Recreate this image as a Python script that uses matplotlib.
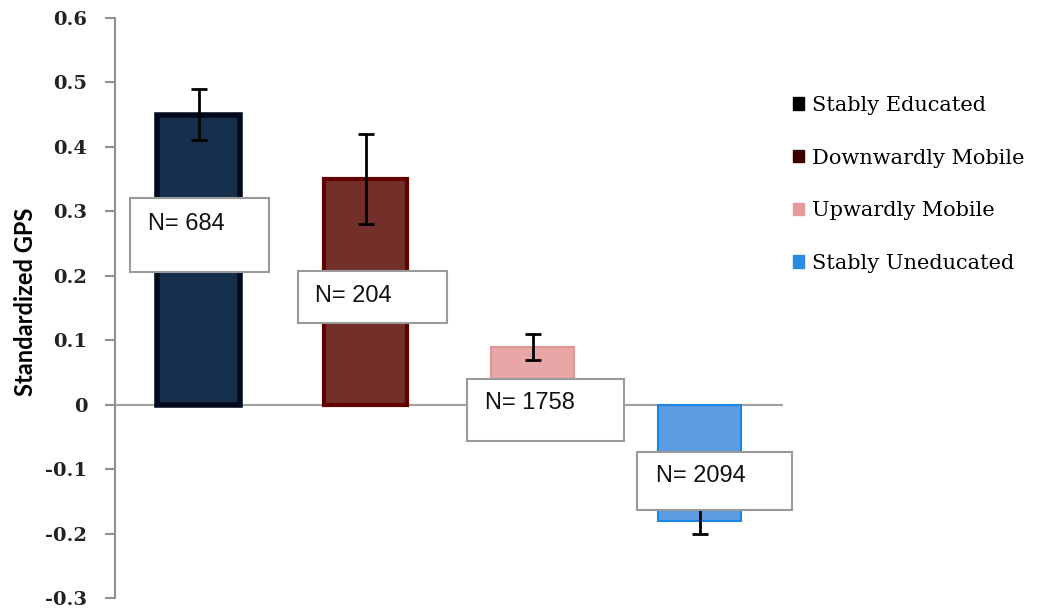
import matplotlib
matplotlib.use("Agg")
import matplotlib.pyplot as plt
from matplotlib.patches import Rectangle, Patch

# Data
groups = ["Stably Educated", "Downwardly Mobile", "Upwardly Mobile", "Stably Uneducated"]
gps = [0.45, 0.35, 0.09, -0.18]
err = [0.04, 0.07, 0.02, 0.02]
n_labels = ["N= 684", "N= 204", "N= 1758", "N= 2094"]

fill_colors = ["#162f4d", "#73302b", "#e8a6a6", "#5b9de0"]
edge_colors = ["#000a1c", "#620000", "#e29595", "#1a87e2"]
edge_widths = [4, 3, 1.5, 1.5]
legend_colors = ["#000000", "#3a0000", "#e39a9a", "#2a8be3"]

# label boxes: (x0, y0, width, height) in data units, text anchor (x, y)
boxes = [
    ((-0.41, 0.206, 0.832, 0.114), (-0.30, 0.281)),
    ((0.596, 0.126, 0.892, 0.082), (0.70, 0.168)),
    ((1.608, -0.056, 0.940, 0.096), (1.716, 0.002)),
    ((2.626, -0.163, 0.928, 0.090), (2.74, -0.110)),
]

fig = plt.figure(figsize=(10.43, 6.14), dpi=100)
ax = fig.add_axes([115 / 1043, 1 - 598 / 614, (783 - 115) / 1043, 580 / 614])

x = list(range(len(groups)))
ax.bar(x, gps, width=0.5, color=fill_colors, edgecolor=edge_colors, linewidth=edge_widths,
       zorder=2)
ax.errorbar(x, gps, yerr=err, fmt="none", ecolor="black", elinewidth=2, capsize=5.5,
            capthick=2, zorder=3)
ax.axhline(0, color="#a0a0a0", linewidth=1.5, zorder=1)

for ((x0, y0, w, h), (tx, ty)), lab in zip(boxes, n_labels):
    ax.add_patch(Rectangle((x0, y0), w, h, facecolor="white", edgecolor="#9a9a9a",
                           linewidth=1.5, zorder=4, clip_on=False))
    ax.text(tx, ty, lab, fontsize=17, family="Liberation Sans", va="center", ha="left",
            zorder=5, color="#111111")

ax.set_xlim(-0.5, 3.5)
ax.set_ylim(-0.3, 0.6)
ax.set_yticks([-0.3, -0.2, -0.1, 0, 0.1, 0.2, 0.3, 0.4, 0.5, 0.6])
ax.set_yticklabels(["-0.3", "-0.2", "-0.1", "0", "0.1", "0.2", "0.3", "0.4", "0.5", "0.6"],
                   family="DejaVu Serif", fontsize=14, fontweight="bold", color="#222222")
ax.set_xticks([])
for s in ["top", "right", "bottom"]:
    ax.spines[s].set_visible(False)
ax.spines["left"].set_color("#909090")
ax.spines["left"].set_linewidth(1.5)
ax.tick_params(axis="y", direction="out", length=7, width=1.5, color="#909090", pad=13)
ax.set_ylabel("Standardized GPS", family="Lato", fontsize=17, fontweight="bold")
ax.yaxis.set_label_coords(-0.117, 0.51)

handles = [Patch(facecolor=c, edgecolor=c) for c in legend_colors]
fig.legend(handles, groups, loc="upper left", bbox_to_anchor=(774 / 1043, 1 - 77 / 614),
           frameon=False, prop={"family": "DejaVu Serif", "size": 15},
           handlelength=0.55, handleheight=0.55, handletextpad=0.35, labelspacing=1.62)

fig.savefig("out.png", dpi=100, facecolor="white")
